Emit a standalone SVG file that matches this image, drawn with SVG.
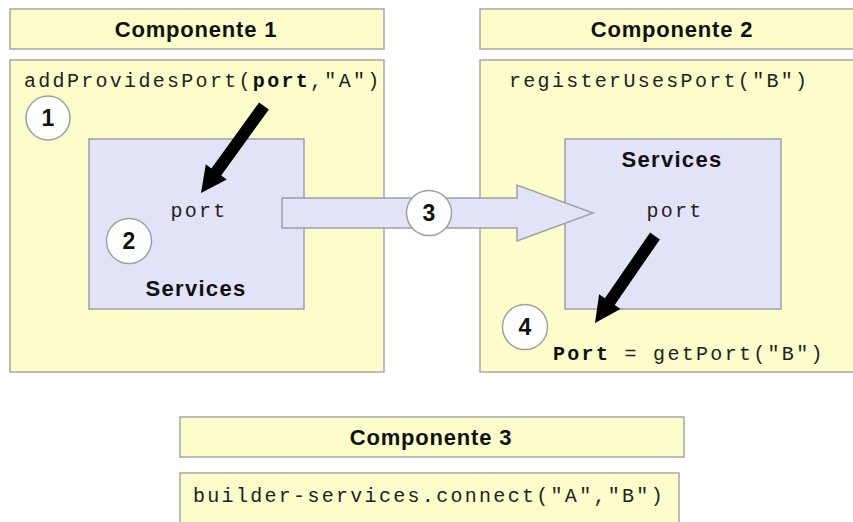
<svg xmlns="http://www.w3.org/2000/svg" width="853" height="522" viewBox="0 0 853 522">
<style>
.box{fill:#fdfccb;stroke:#a8a8a0;stroke-width:1.5}
.svc{fill:#e3e3f8;stroke:#a0a0a8;stroke-width:1.5}
.hdr{font-family:"Liberation Sans",Arial,sans-serif;font-weight:bold;font-size:22px;letter-spacing:0.8px;fill:#111;text-anchor:middle}
.code{font-family:"Liberation Mono","Courier New",monospace;font-size:20px;letter-spacing:2.3px;fill:#222}
.b{font-weight:bold;fill:#111}
.num{fill:#fff;stroke:#a0a0a0;stroke-width:1.5}
.numt{font-family:"Liberation Sans",Arial,sans-serif;font-weight:bold;font-size:23px;fill:#111;text-anchor:middle}
.blk{fill:#000}
</style>
<rect width="853" height="522" fill="#fff"/>
<g id="componente1">
<rect class="box" x="10" y="9" width="374" height="40"/>
<text class="hdr" x="196" y="37">Componente 1</text>
<rect class="box" x="10" y="60" width="374" height="312"/>
<text class="code" x="24" y="87">addProvidesPort(<tspan class="b">port</tspan>,"A")</text>
</g>
<g id="services1">
<rect class="svc" x="89" y="139" width="215" height="170"/>
<text class="code" x="199" y="217" text-anchor="middle">port</text>
<text class="hdr" x="196" y="296" style="letter-spacing:1.3px">Services</text>
</g>
<g id="componente2">
<rect class="box" x="480" y="9" width="380" height="40"/>
<text class="hdr" x="672" y="37">Componente 2</text>
<rect class="box" x="480" y="60" width="380" height="312"/>
<text class="code" x="509" y="87">registerUsesPort("B")</text>
<text class="code" x="553" y="360"><tspan class="b">Port</tspan> = getPort("B")</text>
</g>
<g id="services2">
<rect class="svc" x="565" y="139" width="216" height="170"/>
<text class="hdr" x="672" y="167" style="letter-spacing:1.3px">Services</text>
<text class="code" x="675" y="217" text-anchor="middle">port</text>
</g>
<g id="componente3">
<rect class="box" x="180" y="417" width="504" height="40"/>
<text class="hdr" x="431" y="445">Componente 3</text>
<rect class="box" x="180" y="473" width="499" height="60"/>
<text class="code" x="193" y="502">builder-services.connect("A","B")</text>
</g>
<g id="connectors">
<polygon class="svc" points="282,198 517,198 517,185 593,213 517,241 517,228 282,228"/>
<polygon class="blk" points="268.9,109.5 221.2,175.4 226.8,179.5 201,193 205.8,164.3 211.4,168.4 259.1,102.5"/>
<polygon class="blk" points="659.9,239.4 614.7,305 620.5,309 595,323 599.1,294.2 604.9,298.2 650.1,232.6"/>
</g>
<g id="step1"><circle class="num" cx="48" cy="118" r="22"/><text class="numt" x="48" y="126">1</text></g>
<g id="step2"><circle class="num" cx="129" cy="241" r="22.5"/><text class="numt" x="129" y="249">2</text></g>
<g id="step3"><circle class="num" cx="429" cy="213" r="22.5"/><text class="numt" x="429" y="221">3</text></g>
<g id="step4"><circle class="num" cx="525" cy="327" r="22.5"/><text class="numt" x="525" y="335">4</text></g>
</svg>
